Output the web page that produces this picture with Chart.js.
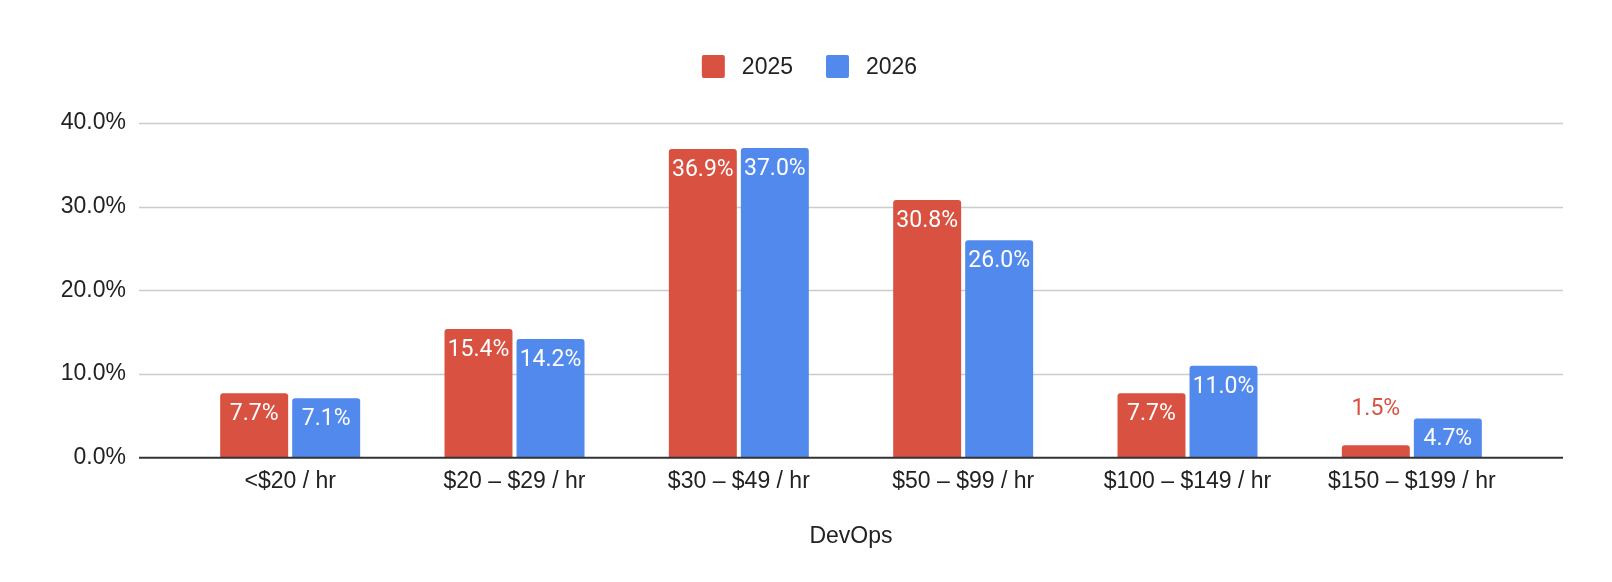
<!DOCTYPE html>
<html>
<head>
<meta charset="utf-8">
<script src="https://cdn.jsdelivr.net/npm/chart.js@4.4.1/dist/chart.umd.min.js"></script>
<style>
  html, body { margin: 0; padding: 0; background: #fff; }
  #wrap { width: 1612px; height: 582px; position: relative; }
</style>
</head>
<body>
<div id="wrap"><canvas id="chart"></canvas></div>
<script>
const categories = ['<$20 / hr', '$20 – $29 / hr', '$30 – $49 / hr', '$50 – $99 / hr', '$100 – $149 / hr', '$150 – $199 / hr'];
const values2025 = [7.7, 15.4, 36.9, 30.8, 7.7, 1.5];
const values2026 = [7.1, 14.2, 37.0, 26.0, 11.0, 4.7];
const seriesNames = ['2025', '2026'];
const yTicks = [0, 10, 20, 30, 40];
const axisTitle = 'DevOps';

const RED = '#d95140';
const BLUE = '#5289ec';
const TEXT = '#222222';
const AXIS_FONT = '"Liberation Sans", Arial, sans-serif';

// gridlines run a bit wider than the bars, like the sheets chart
const gridPlugin = {
  id: 'wideGrid',
  beforeDatasetsDraw(chart) {
    const { ctx, chartArea, scales } = chart;
    const x0 = chartArea.left - 39, x1 = chartArea.right + 39;
    ctx.save();
    ctx.strokeStyle = '#cccccc';
    ctx.lineWidth = 1.3;
    yTicks.forEach(v => {
      if (v === 0) return;
      const y = Math.round(scales.y.getPixelForValue(v)) + 0.5;
      ctx.beginPath();
      ctx.moveTo(x0, y);
      ctx.lineTo(x1, y);
      ctx.stroke();
    });
    ctx.restore();
  },
  afterDatasetsDraw(chart) {
    const { ctx, chartArea, scales } = chart;
    const y = scales.y.getPixelForValue(0);
    ctx.save();
    ctx.strokeStyle = '#333333';
    ctx.lineWidth = 2;
    ctx.beginPath();
    ctx.moveTo(chartArea.left - 39, y);
    ctx.lineTo(chartArea.right + 39, y);
    ctx.stroke();
    ctx.restore();
  }
};

// value labels: white inside the bar, or above it in the series colour when the bar is too short
const labelPlugin = {
  id: 'barLabels',
  afterDatasetsDraw(chart) {
    const { ctx } = chart;
    ctx.save();
    ctx.font = '23px Roboto, sans-serif';
    ctx.textAlign = 'center';
    ctx.textBaseline = 'alphabetic';
    chart.data.datasets.forEach((ds, i) => {
      const meta = chart.getDatasetMeta(i);
      meta.data.forEach((bar, j) => {
        const txt = ds.data[j].toFixed(1) + '%';
        const h = bar.base - bar.y;
        if (h >= 30) {
          ctx.fillStyle = '#ffffff';
          ctx.fillText(txt, bar.x, bar.y + 27);
        } else {
          ctx.fillStyle = ds.backgroundColor;
          ctx.fillText(txt, bar.x, bar.y - 30);
        }
      });
    });
    ctx.restore();
  }
};

// legend drawn by hand so the spacing matches
const legendPlugin = {
  id: 'topLegend',
  afterDraw(chart) {
    const { ctx } = chart;
    const box = 23, gapText = 17, gapItem = 33, center = 809.5, top = 55, baseline = 74;
    ctx.save();
    ctx.font = '23px ' + AXIS_FONT;
    const items = chart.data.datasets.map(ds => ({ text: ds.label, color: ds.backgroundColor, w: ctx.measureText(ds.label).width }));
    const total = items.reduce((s, it) => s + box + gapText + it.w, 0) + gapItem * (items.length - 1);
    let x = center - total / 2;
    items.forEach(it => {
      ctx.fillStyle = it.color;
      ctx.beginPath();
      ctx.roundRect(x, top, box, box, 2);
      ctx.fill();
      ctx.fillStyle = TEXT;
      ctx.textAlign = 'left';
      ctx.textBaseline = 'alphabetic';
      ctx.fillText(it.text, x + box + gapText, baseline);
      x += box + gapText + it.w + gapItem;
    });
    ctx.restore();
  }
};

new Chart(document.getElementById('chart'), {
  type: 'bar',
  data: {
    labels: categories,
    datasets: [
      { label: seriesNames[0], data: values2025, backgroundColor: RED },
      { label: seriesNames[1], data: values2026, backgroundColor: BLUE }
    ]
  },
  options: {
    responsive: true,
    maintainAspectRatio: false,
    animation: false,
    datasets: {
      bar: { categoryPercentage: 0.642, barPercentage: 0.944, borderRadius: 3 }
    },
    layout: { padding: { left: 0, right: 88, top: 123, bottom: 32 } },
    plugins: {
      tooltip: { enabled: false },
      legend: { display: false }
    },
    scales: {
      x: {
        grid: { display: false },
        border: { display: false },
        ticks: { color: TEXT, padding: 2, font: { family: AXIS_FONT, size: 23 }, maxRotation: 0, autoSkip: false },
        title: { display: true, text: axisTitle, color: TEXT, padding: { top: 25, bottom: 0 }, font: { family: AXIS_FONT, size: 23 } }
      },
      y: {
        min: 0,
        max: 40,
        grid: { display: false, drawTicks: false },
        border: { display: false },
        ticks: {
          stepSize: 10,
          padding: 52,
          color: TEXT,
          font: { family: AXIS_FONT, size: 23 },
          callback: v => v.toFixed(1) + '%'
        },
        afterFit(scale) { scale.width = 178; }
      }
    }
  },
  plugins: [gridPlugin, labelPlugin, legendPlugin]
});
</script>
</body>
</html>
